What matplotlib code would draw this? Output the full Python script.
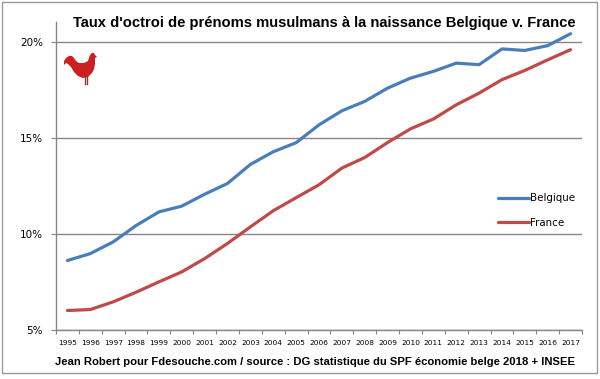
import matplotlib
matplotlib.use("Agg")
import matplotlib.pyplot as plt
from matplotlib.patches import Rectangle, Polygon
from matplotlib.lines import Line2D

years = [str(y) for y in range(1995, 2018)]
belgique = [8.63, 8.99, 9.60, 10.45, 11.16, 11.46, 12.08, 12.64, 13.63, 14.29, 14.76,
            15.69, 16.42, 16.91, 17.60, 18.12, 18.47, 18.90, 18.82, 19.64, 19.56, 19.81, 20.43]
france = [6.03, 6.08, 6.48, 6.98, 7.52, 8.04, 8.73, 9.52, 10.38, 11.22, 11.90,
          12.57, 13.44, 13.99, 14.77, 15.48, 15.99, 16.73, 17.34, 18.04, 18.52, 19.07, 19.60]
yticks = [5, 10, 15, 20]

W, H = 600, 379
fig = plt.figure(figsize=(W / 100, H / 100), dpi=100)
fig.patch.set_facecolor("white")

def fx(px):
    return px / W

def fy(py):
    return 1 - py / H

grey = "#868686"
ax = fig.add_axes([fx(56), fy(330.3), fx(582) - fx(56), fy(22) - fy(330.3)])
x = list(range(len(years)))
ax.plot(x, belgique, color="#4a7ebb", lw=2.3, label="Belgique", solid_capstyle="round")
ax.plot(x, france, color="#be4b48", lw=2.3, label="France", solid_capstyle="round")

ax.set_xlim(-0.5, len(years) - 0.5)
ax.set_ylim(5, 21.04)
ax.set_yticks(yticks)
ax.set_yticklabels([f"{v}%" for v in yticks], fontsize=7.5, family="DejaVu Sans")
ax.yaxis.grid(True, color=grey, lw=1)
ax.set_axisbelow(True)

ax.set_xticks([i - 0.5 for i in range(len(years) + 1)])
ax.set_xticklabels([])
ax.set_xticks(x, minor=True)
ax.set_xticklabels(years, minor=True, fontsize=5.3, family="DejaVu Sans")
ax.tick_params(axis="x", which="major", length=3, color=grey, direction="out")
ax.tick_params(axis="x", which="minor", length=0, pad=7)
ax.tick_params(axis="y", length=3.5, color=grey, pad=6)

for s in ["top", "right"]:
    ax.spines[s].set_visible(False)
for s in ["left", "bottom"]:
    ax.spines[s].set_color(grey)
    ax.spines[s].set_linewidth(1)

leg = ax.legend(loc="upper left", bbox_to_anchor=(fx(489), fy(184)), bbox_transform=fig.transFigure,
                frameon=False, handlelength=3.0, handletextpad=0.1, labelspacing=1.4,
                prop={"family": "DejaVu Sans", "size": 7.4})

fig.text(fx(324.5), fy(23), "Taux d'octroi de prénoms musulmans à la naissance Belgique v. France",
         ha="center", va="center", fontsize=10.6, fontweight="bold", family="Liberation Sans")
fig.text(fx(315), fy(362),
         "Jean Robert pour Fdesouche.com / source : DG statistique du SPF économie belge 2018 + INSEE",
         ha="center", va="center", fontsize=8.1, fontweight="bold", family="Liberation Sans")

# rooster silhouette (decoration)
ox, oy = 60, 50
rooster = [(4, 15), (4, 11), (6, 8), (9, 6), (12, 6), (14, 8), (16, 11), (19, 13), (24, 13),
           (28, 11), (29, 8), (30, 5), (32, 3), (34, 3), (35, 5), (37, 7), (35, 8), (35, 10),
           (35, 14), (34, 19), (32, 23), (28, 27), (23, 28), (18, 26), (14, 22), (11, 17), (8, 14),
           (6, 13)]
fig.patches.append(Polygon([(fx(ox + a), fy(oy + b)) for a, b in rooster], closed=True,
                           transform=fig.transFigure, facecolor="#cc1f1f", edgecolor="none"))
for lx in (24.5, 27):
    fig.lines.append(Line2D([fx(ox + lx), fx(ox + lx)], [fy(oy + 27), fy(oy + 34)],
                            transform=fig.transFigure, color="#8a3a3a", lw=1))

fig.patches.append(Rectangle((fx(2), fy(373)), fx(597) - fx(2), fy(2) - fy(373),
                             transform=fig.transFigure, fill=False, edgecolor="#999999", lw=1))

fig.savefig("out.png", dpi=100)
